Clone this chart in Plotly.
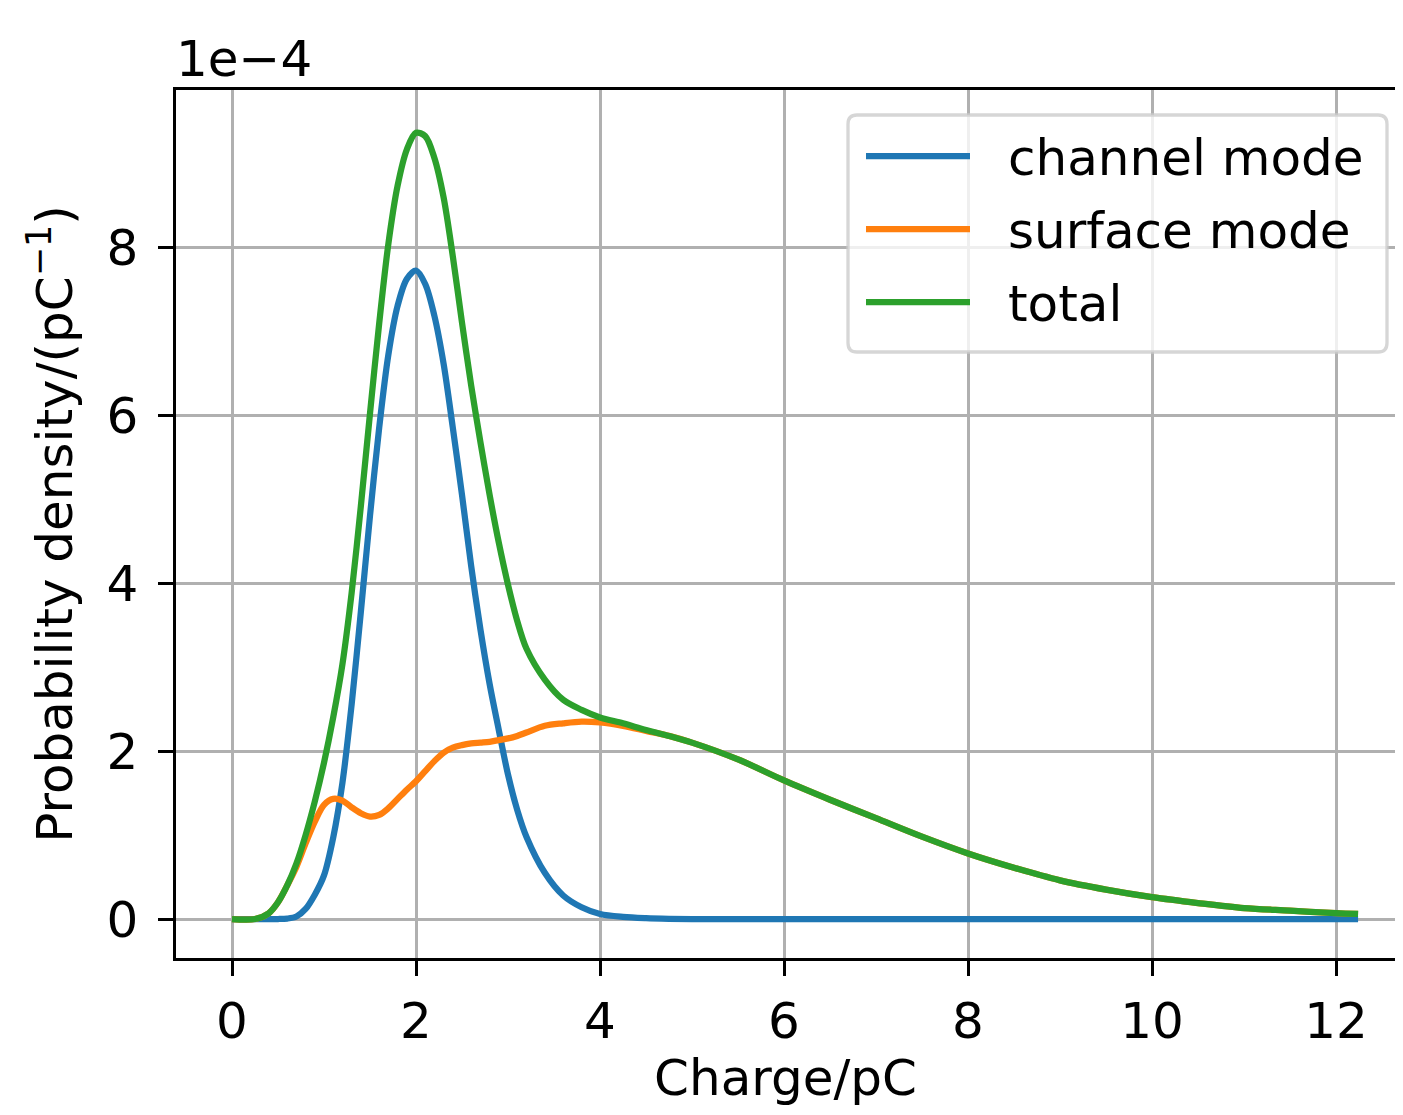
import plotly.graph_objects as go

# Charge (pC)
charge = [0, 0.25, 0.4, 0.5, 0.6, 0.7, 0.8, 0.9, 1.0, 1.1, 1.2, 1.3, 1.4, 1.5, 1.6, 1.7, 1.8, 1.9,
          2.0, 2.1, 2.2, 2.3, 2.4, 2.5, 2.6, 2.7, 2.8, 2.9, 3.0, 3.1, 3.2, 3.4, 3.6, 3.8, 4.0, 4.25,
          4.5, 4.75, 5.0, 5.5, 6.0, 6.5, 7.0, 7.5, 8.0, 8.5, 9.0, 9.5, 10.0, 10.5, 11.0, 11.5, 12.0, 12.24]

# Probability densities in units of 1e-4 pC^-1
channel_mode = [0, 0, 0, 0, 0.005, 0.03, 0.12, 0.29, 0.52, 0.97, 1.62, 2.55, 3.65, 4.8, 5.85, 6.72, 7.3, 7.62,
                7.72, 7.56, 7.18, 6.61, 5.85, 5.05, 4.2, 3.45, 2.8, 2.25, 1.72, 1.3, 0.98, 0.55, 0.28, 0.14, 0.06, 0.025,
                0.01, 0.003, 0, 0, 0, 0, 0, 0, 0, 0, 0, 0, 0, 0, 0, 0, 0, 0]
surface_mode = [0, 0, 0.07, 0.2, 0.4, 0.62, 0.9, 1.16, 1.36, 1.43, 1.41, 1.33, 1.26, 1.22, 1.24, 1.32, 1.43, 1.54,
                1.64, 1.76, 1.88, 1.98, 2.04, 2.07, 2.09, 2.10, 2.11, 2.13, 2.15, 2.18, 2.22, 2.30, 2.33, 2.35, 2.34, 2.30,
                2.24, 2.18, 2.10, 1.90, 1.65, 1.42, 1.20, 0.98, 0.78, 0.61, 0.46, 0.35, 0.26, 0.19, 0.13, 0.10, 0.07, 0.06]
total = [0, 0, 0.07, 0.2, 0.40, 0.66, 1.0, 1.40, 1.86, 2.40, 3.03, 3.88, 4.91, 6.02, 7.09, 8.04, 8.73, 9.16,
         9.36, 9.32, 9.06, 8.59, 7.89, 7.10, 6.35, 5.68, 5.05, 4.48, 3.98, 3.55, 3.22, 2.85, 2.61, 2.49, 2.40, 2.33,
         2.25, 2.18, 2.10, 1.90, 1.65, 1.42, 1.20, 0.98, 0.78, 0.61, 0.46, 0.35, 0.26, 0.19, 0.13, 0.10, 0.07, 0.06]

series_names = ["channel mode", "surface mode", "total"]
series_colors = ["#1f77b4", "#ff7f0e", "#2ca02c"]
x_ticks = [0, 2, 4, 6, 8, 10, 12]
y_ticks = [0, 2, 4, 6, 8]

FONT = "DejaVu Sans"
FS = 50
LW = 6.25

# page has an 8px body margin on every side; keep the figure inside the window
OFF = 8
W, H = 1403 - 2 * OFF, 1115 - 2 * OFF
XR = 1403 - OFF  # right edge of plot area on screen
L, R, T, B = 176 - OFF, XR - OFF, 90 - OFF, 958 - OFF

fig = go.Figure()
for name, ys, col in zip(series_names, [channel_mode, surface_mode, total], series_colors):
    fig.add_trace(go.Scatter(x=charge, y=ys, mode="lines", name=name,
                             line=dict(color=col, width=LW, shape="spline", smoothing=0.9),
                             showlegend=False))

axis_common = dict(showline=True, linecolor="black", linewidth=3.3,
                   showgrid=True, gridcolor="#b0b0b0", gridwidth=3.3, zeroline=False,
                   ticks="outside", ticklen=14.6, tickwidth=3.3, tickcolor="black",
                   tickfont=dict(family=FONT, size=FS, color="black"))

fig.update_xaxes(range=[-0.6087, -0.6087 + (XR - 176) / 92.0], tickvals=x_ticks,
                 ticktext=[str(v) for v in x_ticks], ticklabelstandoff=2, mirror=True,
                 title=dict(text="Charge/pC", font=dict(family=FONT, size=FS, color="black"), standoff=14),
                 **axis_common)
fig.update_yaxes(range=[-0.464, 9.869], tickvals=y_ticks, ticktext=[str(v) for v in y_ticks],
                 ticklabelstandoff=10, mirror=False,
                 title=dict(text="Probability density/(pC<sup>−1</sup>)",
                            font=dict(family=FONT, size=FS, color="black"), standoff=18),
                 **axis_common)

def px(xp):
    return (xp - 176) / (XR - 176)

def py(yp):
    return (958 - yp) / (958 - 90)

# legend frame (rounded)
x0, x1, y0, y1 = px(848), px(1387), py(352), py(115)
rx, ry = 9 / (XR - 176), 9 / (958 - 90)
path = (f"M{x0+rx},{y0} L{x1-rx},{y0} Q{x1},{y0} {x1},{y0+ry} L{x1},{y1-ry} Q{x1},{y1} {x1-rx},{y1} "
        f"L{x0+rx},{y1} Q{x0},{y1} {x0},{y1-ry} L{x0},{y0+ry} Q{x0},{y0} {x0+rx},{y0} Z")
shapes = [dict(type="path", xref="paper", yref="paper", path=path,
               fillcolor="rgba(255,255,255,0.8)", line=dict(color="rgba(204,204,204,0.8)", width=3.3))]
annotations = []
for i, (name, col) in enumerate(zip(series_names, series_colors)):
    yy = py(156 + 73 * i)
    shapes.append(dict(type="line", xref="paper", yref="paper", x0=px(866), x1=px(970), y0=yy, y1=yy,
                       line=dict(color=col, width=LW)))
    annotations.append(dict(xref="paper", yref="paper", x=px(1006), y=py(158 + 73 * i), text=name,
                            showarrow=False, xanchor="left", yanchor="middle",
                            font=dict(family=FONT, size=FS, color="black")))

annotations.append(dict(xref="paper", yref="paper", x=0.0, y=1.0, text="1e−4", showarrow=False,
                        xanchor="left", yanchor="bottom", yshift=0, xshift=-2,
                        font=dict(family=FONT, size=FS, color="black")))

fig.update_layout(width=W, height=H, margin=dict(l=L, r=W - R, t=T, b=H - B, autoexpand=False),
                  paper_bgcolor="white", plot_bgcolor="white", shapes=shapes, annotations=annotations,
                  showlegend=False)

fig.write_html("out.html")
